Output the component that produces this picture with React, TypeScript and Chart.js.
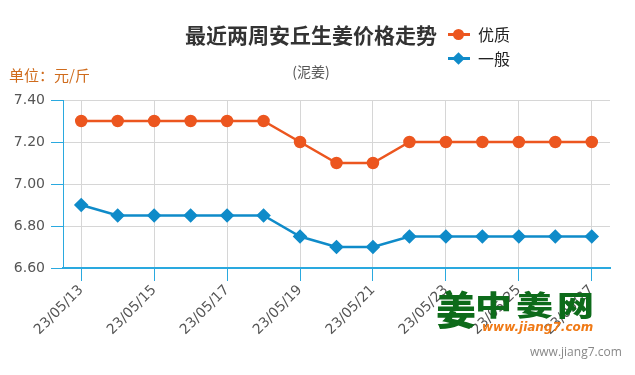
import React, { useEffect, useRef } from "react";
import { Chart, registerables } from "chart.js";

Chart.register(...registerables);

const categories = [
  "23/05/13", "23/05/14", "23/05/15", "23/05/16", "23/05/17", "23/05/18", "23/05/19",
  "23/05/20", "23/05/21", "23/05/22", "23/05/23", "23/05/24", "23/05/25", "23/05/26", "23/05/27",
];
const premium = [7.3, 7.3, 7.3, 7.3, 7.3, 7.3, 7.2, 7.1, 7.1, 7.2, 7.2, 7.2, 7.2, 7.2, 7.2];
const ordinary = [6.9, 6.85, 6.85, 6.85, 6.85, 6.85, 6.75, 6.7, 6.7, 6.75, 6.75, 6.75, 6.75, 6.75, 6.75];
const seriesNames = ["优质", "一般"];
const yMin = 6.6;
const yMax = 7.4;
const yStep = 0.2;

const ORANGE = "#ec561f";
const BLUE = "#0f8bc9";
const AXIS = "#2aa9df";
const FONT = "'Noto Sans CJK SC', 'Open Sans', sans-serif";
const TICKFONT = "'DejaVu Sans', sans-serif";

export default function App() {
  const ref = useRef<HTMLCanvasElement | null>(null);
  useEffect(() => {
    if (!ref.current) return;
    const chart = new Chart(ref.current, {
      type: "line",
      data: {
        labels: categories,
        datasets: [
          {
            label: seriesNames[0],
            data: premium,
            borderColor: ORANGE,
            backgroundColor: ORANGE,
            borderWidth: 2.5,
            pointRadius: 5,
            pointHoverRadius: 5,
            pointStyle: "circle",
            tension: 0,
          },
          {
            label: seriesNames[1],
            data: ordinary,
            borderColor: BLUE,
            backgroundColor: BLUE,
            borderWidth: 2.5,
            pointRadius: 5.5,
            pointHoverRadius: 5.5,
            pointStyle: "rectRot",
            tension: 0,
          },
        ],
      },
      options: {
        animation: false,
        responsive: false,
        maintainAspectRatio: false,
        layout: { padding: { left: 0, top: 100, right: 25, bottom: 0 } },
        plugins: {
          legend: { display: false },
          title: { display: false },
          tooltip: { enabled: false },
        },
        scales: {
          x: {
            type: "category",
            offset: true,
            afterFit: (s: any) => {
              s.height = 107;
            },
            grid: {
              offset: false,
              drawOnChartArea: true,
              color: (ctx: any) => (ctx.index % 2 === 0 ? "#d6d6d6" : "rgba(0,0,0,0)"),
              tickColor: (ctx: any) => (ctx.index % 2 === 0 ? AXIS : "rgba(0,0,0,0)"),
              tickLength: 13,
              lineWidth: 1,
            },
            border: { color: AXIS, width: 2 },
            ticks: {
              autoSkip: false,
              maxRotation: 45,
              minRotation: 45,
              color: "#555",
              font: { family: TICKFONT, size: 14 },
              padding: 1,
              callback: (_v: any, i: number) => (i % 2 === 0 ? categories[i] : ""),
            },
          },
          y: {
            min: yMin,
            max: yMax,
            afterFit: (s: any) => {
              s.width = 63;
            },
            grid: {
              color: "#d6d6d6",
              tickColor: AXIS,
              tickLength: 12,
              lineWidth: 1,
            },
            border: { color: AXIS, width: 1 },
            ticks: {
              stepSize: yStep,
              color: "#555",
              font: { family: TICKFONT, size: 14 },
              padding: 6,
              callback: (v: any) => Number(v).toFixed(2),
            },
          },
        },
      },
    });
    return () => chart.destroy();
  }, []);

  const legendItem = (color: string, name: string, top: number, diamond: boolean) => (
    <div style={{ position: "absolute", left: 448, top, display: "flex", alignItems: "center", height: 20 }}>
      <div style={{ position: "relative", width: 22, height: 20 }}>
        <div style={{ position: "absolute", left: 0, top: 9, width: 22, height: 3, background: color }} />
        <div
          style={{
            position: "absolute",
            left: diamond ? 6 : 5,
            top: diamond ? 5.5 : 5,
            width: diamond ? 9 : 11,
            height: diamond ? 9 : 11,
            background: color,
            borderRadius: diamond ? 0 : "50%",
            transform: diamond ? "rotate(45deg)" : undefined,
          }}
        />
      </div>
      <span style={{ marginLeft: 8, fontSize: 16, color: "#222", fontFamily: FONT }}>{name}</span>
    </div>
  );

  return (
    <div style={{ position: "absolute", left: 0, top: 0, width: 635, height: 375, background: "#fff", overflow: "hidden" }}>
      <canvas ref={ref} width={635} height={375} style={{ position: "absolute", left: 0, top: 0 }} />
      <div
        style={{
          position: "absolute",
          left: 0,
          width: 622,
          top: 19,
          textAlign: "center",
          fontFamily: FONT,
          fontWeight: "bold",
          fontSize: 21,
          color: "#333",
        }}
      >
        最近两周安丘生姜价格走势
      </div>
      <div
        style={{
          position: "absolute",
          left: 0,
          width: 622,
          top: 61,
          textAlign: "center",
          fontFamily: FONT,
          fontSize: 14,
          color: "#555",
        }}
      >
        (泥姜)
      </div>
      {legendItem(ORANGE, seriesNames[0], 24, false)}
      {legendItem(BLUE, seriesNames[1], 48, true)}
      <div style={{ position: "absolute", left: 9, top: 64, fontFamily: FONT, fontSize: 15, color: "#cf6b1c" }}>
        单位：元/斤
      </div>
      <div
        style={{
          position: "absolute",
          left: 436,
          top: 284,
          fontFamily: FONT,
          fontWeight: 900,
          fontSize: 40,
          lineHeight: "48px",
          color: "#0d6b1a",
        }}
      >
        姜
      </div>
      <div
        style={{
          position: "absolute",
          left: 475,
          top: 289,
          fontFamily: FONT,
          fontWeight: 900,
          fontSize: 37,
          lineHeight: "37px",
          color: "#0d6b1a",
          letterSpacing: 4,
          transform: "scaleY(0.78)",
          transformOrigin: "top left",
          whiteSpace: "nowrap",
        }}
      >
        中姜网
      </div>
      <div
        style={{
          position: "absolute",
          left: 482,
          top: 320,
          fontFamily: TICKFONT,
          fontWeight: "bold",
          fontStyle: "italic",
          fontSize: 12,
          color: "#f07a16",
        }}
      >
        www.jiang7.com
      </div>
      <div
        style={{
          position: "absolute",
          left: 530,
          top: 343,
          fontFamily: "'Open Sans', sans-serif",
          fontSize: 12,
          color: "#888",
        }}
      >
        www.jiang7.com
      </div>
    </div>
  );
}
